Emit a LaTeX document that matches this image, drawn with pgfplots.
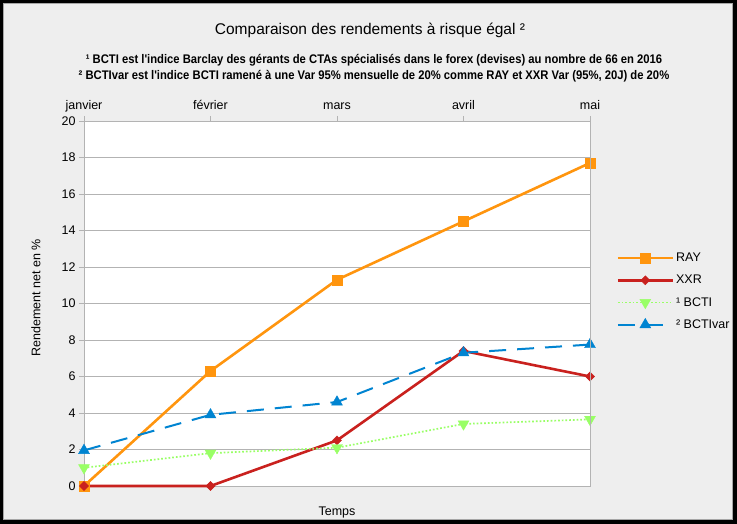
\documentclass[border=0pt]{standalone}
\usepackage{pgfplots}
\pgfplotsset{compat=1.18}
\usepackage{fontspec}
\setmainfont{Liberation Sans}
\newfontfamily\narrowfont[FakeStretch=0.9]{Liberation Sans}
\definecolor{bgc}{HTML}{EEEEEE}
\definecolor{cray}{HTML}{FF950E}
\definecolor{cxxr}{HTML}{C9211E}
\definecolor{cbcti}{HTML}{99FF66}
\definecolor{cvar}{HTML}{0084D1}
\definecolor{gridc}{HTML}{B3B3B3}
\begin{document}
\begin{tikzpicture}[x=1pt,y=1pt]
\useasboundingbox (0,0) rectangle (737,524);
\fill[black] (0,0) rectangle (737,524);
\fill[bgc] (3,4) rectangle (733,521);
\draw[gray!70,line width=0.8pt] (3.4,4.4) rectangle (732.6,520.6);
\node[font=\fontsize{15.5}{19}\selectfont] at (370,494) {Comparaison des rendements à risque égal ²};
\node[font=\narrowfont\bfseries\fontsize{12.5}{14}\selectfont] at (374,464) {¹ BCTI est l'indice Barclay des gérants de CTAs spécialisés dans le forex (devises) au nombre de 66 en 2016};
\node[font=\narrowfont\bfseries\fontsize{12.5}{14}\selectfont] at (374,448) {² BCTIvar est l'indice BCTI ramené à une Var 95\% mensuelle de 20\% comme RAY et XXR Var (95\%, 20J) de 20\%};
\begin{axis}[
  at={(84pt,38pt)}, anchor=south west, scale only axis,
  width=506pt, height=365pt,
  xmin=0, xmax=4, ymin=0, ymax=20,
  xtick={0,1,2,3,4},
  xticklabels={janvier,février,mars,avril,mai},
  xticklabel pos=upper,
  xtick pos=upper,
  ytick pos=left,
  ytick={0,2,...,20},
  axis background/.style={fill=white},
  axis line style={gridc, line width=0.8pt},
  every tick/.style={gridc, line width=0.8pt},
  major tick length=5pt,
  tick align=outside,
  ymajorgrids,
  major grid style={gridc, line width=0.8pt},
  /pgf/number format/assume math mode=true,
  tick label style={font=\fontsize{12.5}{14}\selectfont, black},
  xticklabel style={anchor=base, yshift=6pt},
  xlabel={Temps}, xlabel style={font=\fontsize{12.5}{14}\selectfont, at={(axis description cs:0.5,0)}, anchor=north, yshift=-17pt},
  ylabel={Rendement net en \%}, ylabel style={font=\fontsize{12.5}{14}\selectfont, at={(axis description cs:-0.095,0.515)}, anchor=center},
  clip=false,
  legend style={at={(axis description cs:1.052,0.644)}, anchor=north west, draw=none, fill=none,
    font=\fontsize{12.5}{14}\selectfont, row sep=8pt, inner sep=0pt,
    /tikz/every even column/.append style={column sep=3pt}},
  legend cell align=left,
  legend image code/.code={
    \draw[#1] (0pt,0pt) -- (55pt,0pt);
    \draw[#1, solid] plot coordinates {(27.5pt,0pt)};
  },
]
\addplot[cray, line width=2.6pt, mark=square*, mark size=5pt, mark options={solid, line width=0.4pt}] coordinates {(0,0) (1,6.3) (2,11.3) (3,14.5) (4,17.7)};
\addlegendentry{RAY}
\addplot[cxxr, line width=2.6pt, mark=square*, mark size=3.2pt, mark options={solid, rotate=45, line width=0.4pt}] coordinates {(0,0) (1,0) (2,2.5) (3,7.4) (4,6.0)};
\addlegendentry{XXR}
\addplot[cbcti, line width=1.7pt, dotted, mark=triangle*, mark size=6.3pt, mark options={solid, rotate=180, line width=0.4pt}] coordinates {(0,1.0) (1,1.8) (2,2.1) (3,3.4) (4,3.65)};
\addlegendentry{¹ BCTI}
\addplot[cvar, line width=2pt, dash pattern=on 17pt off 11pt, mark=triangle*, mark size=6.3pt, mark options={solid, line width=0.4pt}] coordinates {(0,1.95) (1,3.9) (2,4.6) (3,7.3) (4,7.75)};
\addlegendentry{² BCTIvar}
\end{axis}
\draw[gridc, line width=0.8pt] (590,38) -- (590,403);
\end{tikzpicture}
\end{document}
